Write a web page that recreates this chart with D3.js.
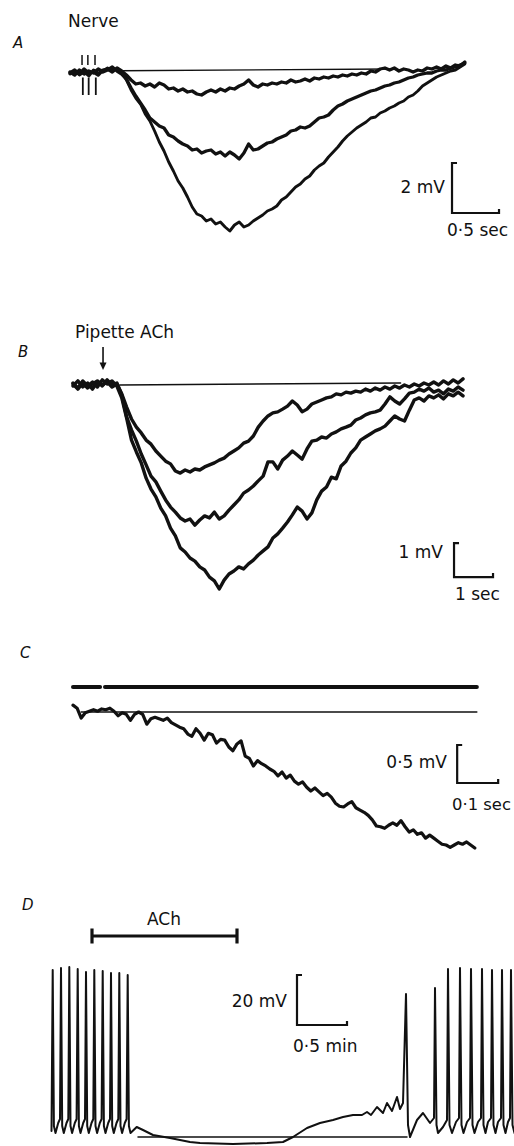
<!DOCTYPE html>
<html>
<head>
<meta charset="UTF-8">
<title>ACh slow potentials</title>
<script src="https://d3js.org/d3.v7.min.js"></script>
<style>
body{margin:0;background:#fff;}
text{font-family:"DejaVu Sans",sans-serif;fill:#111;}
</style>
</head>
<body>
<script>
// A: nerve evoked responses, one value every 0.05 s (mV from rest)
var dtA = 0.05;
var deepA = [-0.16,-0.04,-0.2,-0.08,-0.24,0,-0.12,-0.04,0.08,0,0.04,
  -0.08,-0.4,-0.8,-1.12,-1.36,-1.76,-2.04,-2.44,-2.88,-3.24,
  -3.68,-4.04,-4.44,-4.72,-5.08,-5.48,-5.76,-5.84,-6.04,-5.96,
  -6.16,-6.08,-6.28,-6.44,-6.2,-6.08,-6.28,-6.2,-6.04,-5.92,
  -5.8,-5.64,-5.56,-5.44,-5.2,-5.08,-4.88,-4.68,-4.56,-4.36,
  -4.24,-4.0,-3.84,-3.72,-3.48,-3.28,-3.08,-2.84,-2.64,-2.48,
  -2.32,-2.2,-2.08,-1.92,-1.88,-1.72,-1.64,-1.52,-1.44,-1.32,
  -1.24,-1.08,-1.0,-0.84,-0.64,-0.52,-0.4,-0.28,-0.2,-0.12,
  -0.04,0,0.12,0.24];
var midA = [-0.08,-0.2,0,-0.16,-0.04,-0.12,0.04,-0.08,0,0.12,-0.04,
  -0.16,-0.36,-0.72,-1.04,-1.32,-1.6,-1.92,-2.08,-2.24,-2.32,
  -2.6,-2.68,-2.84,-2.96,-3.04,-3.2,-3.16,-3.32,-3.24,-3.2,
  -3.36,-3.28,-3.44,-3.28,-3.4,-3.56,-3.32,-2.96,-3.2,-3.16,
  -3.04,-2.92,-2.88,-2.76,-2.68,-2.6,-2.44,-2.4,-2.28,-2.32,
  -2.24,-2.08,-1.92,-1.88,-1.8,-1.6,-1.44,-1.36,-1.24,-1.16,
  -1.08,-1.0,-0.92,-0.84,-0.8,-0.72,-0.64,-0.6,-0.52,-0.48,
  -0.4,-0.32,-0.28,-0.2,-0.16,-0.12,-0.12,-0.04,0,0,
  0.08,0.12,0.2,0.28];
var shalA = [-0.12,0,-0.16,0.04,-0.12,-0.08,-0.2,0,0.04,-0.08,0.08,
  -0.04,-0.2,-0.4,-0.56,-0.52,-0.64,-0.56,-0.68,-0.52,-0.6,
  -0.76,-0.72,-0.84,-0.76,-0.88,-0.84,-0.96,-1.0,-0.88,-0.8,
  -0.88,-0.76,-0.84,-0.72,-0.76,-0.64,-0.56,-0.4,-0.6,-0.68,
  -0.56,-0.6,-0.52,-0.56,-0.48,-0.52,-0.4,-0.48,-0.44,-0.36,
  -0.44,-0.32,-0.36,-0.28,-0.32,-0.24,-0.28,-0.2,-0.24,-0.16,
  -0.2,-0.12,-0.16,-0.04,-0.08,0.04,0.08,0,0.08,-0.04,
  0.04,0,-0.08,0,-0.04,0.08,0.04,0.12,0.04,0.16,
  0.08,0.2,0.16,0.32];
var stimA = [0.128, 0.19, 0.266];          // nerve shocks (s)
var baseA = [[0.53,-0.03],[3.4,0.04]];

// B: pipette ACh, one value every 0.125 s (mV)
var dtB = 0.125;
var deepB = [0.06,-0.09,0.12,-0.03,0.09,-0.06,0.15,0.03,0.12,-0.03,
  -0.38,-0.97,-1.62,-1.97,-2.29,-2.74,-3.06,-3.29,-3.62,-3.85,
  -4.21,-4.44,-4.79,-4.91,-5.09,-5.18,-5.35,-5.44,-5.65,-5.76,
  -6.0,-5.74,-5.56,-5.47,-5.35,-5.41,-5.26,-5.15,-5.0,-4.88,
  -4.76,-4.5,-4.38,-4.21,-4.03,-3.82,-3.59,-3.71,-3.94,-3.76,
  -3.38,-3.12,-3.0,-2.71,-2.76,-2.38,-2.24,-2.0,-1.85,-1.62,
  -1.53,-1.44,-1.35,-1.29,-1.21,-1.06,-0.91,-1.0,-1.06,-0.74,
  -0.44,-0.38,-0.47,-0.32,-0.38,-0.29,-0.41,-0.26,-0.32,-0.21,
  -0.32];
var midB = [-0.03,0.12,-0.06,0.06,-0.12,0.09,-0.03,0.15,0,0.06,
  -0.29,-0.94,-1.32,-1.65,-2.03,-2.35,-2.68,-2.85,-3.12,-3.38,
  -3.59,-3.74,-3.91,-4.0,-3.94,-4.12,-3.97,-3.85,-3.91,-3.74,
  -3.94,-3.85,-3.68,-3.53,-3.38,-3.18,-3.09,-2.97,-2.82,-2.68,
  -2.26,-2.26,-2.47,-2.21,-2.09,-1.94,-2.06,-2.18,-1.88,-1.65,
  -1.62,-1.53,-1.56,-1.44,-1.38,-1.29,-1.24,-1.18,-1.03,-0.97,
  -0.88,-0.82,-0.79,-0.74,-0.56,-0.35,-0.47,-0.56,-0.41,-0.24,
  -0.21,-0.12,-0.18,-0.09,-0.21,-0.15,-0.26,-0.12,-0.18,-0.06,
  -0.15];
var shalB = [0.03,-0.12,0.06,-0.09,0.03,0.12,0,0.09,-0.06,0.03,
  -0.26,-0.65,-1.0,-1.24,-1.41,-1.62,-1.74,-1.94,-2.09,-2.24,
  -2.32,-2.53,-2.59,-2.5,-2.56,-2.47,-2.5,-2.41,-2.35,-2.29,
  -2.21,-2.15,-2.03,-1.94,-1.85,-1.71,-1.65,-1.5,-1.24,-1.06,
  -0.91,-0.82,-0.79,-0.71,-0.62,-0.47,-0.59,-0.79,-0.71,-0.56,
  -0.5,-0.44,-0.38,-0.35,-0.26,-0.29,-0.21,-0.24,-0.18,-0.21,
  -0.12,-0.18,-0.09,-0.15,-0.06,-0.12,-0.03,-0.09,0,-0.06,
  0.03,-0.03,0.06,0,0.09,0,0.12,0.03,0.15,0.06,
  0.18];
var pipetteB = 0.77;                        // ACh pulse (s)
var baseB = [[1.2,0],[8.4,0.06]];

// C: onset on fast time base, one value every 0.01 s (mV)
var dtC = 0.01;
var traceC = [0.09,0.05,-0.08,-0.01,0.01,0.03,0.01,0.04,0.03,0.05,
  0.01,-0.05,-0.01,-0.03,-0.11,-0.03,0,-0.03,-0.16,-0.09,
  -0.07,-0.09,-0.11,-0.08,-0.14,-0.17,-0.2,-0.22,-0.29,-0.32,
  -0.22,-0.28,-0.37,-0.28,-0.3,-0.41,-0.36,-0.37,-0.46,-0.51,
  -0.42,-0.38,-0.58,-0.61,-0.71,-0.64,-0.68,-0.71,-0.75,-0.78,
  -0.84,-0.79,-0.87,-0.83,-0.91,-0.95,-0.92,-0.99,-1.04,-1.0,
  -1.05,-1.1,-1.07,-1.12,-1.2,-1.24,-1.25,-1.21,-1.18,-1.26,
  -1.29,-1.32,-1.36,-1.42,-1.5,-1.51,-1.53,-1.49,-1.46,-1.49,
  -1.43,-1.51,-1.58,-1.55,-1.61,-1.59,-1.66,-1.62,-1.66,-1.7,
  -1.74,-1.75,-1.78,-1.75,-1.72,-1.74,-1.71,-1.75,-1.79];
var markC = [[0,0.066],[0.078,0.985]];      // pulse marker segments (s)
var baseC = [[0.02,0],[0.985,0]];

// D: bath ACh on a firing cell, [min, mV]
var traceD = [
  [0.015,2.4],[0.027,66.8],[0.039,4.4],[0.055,1.6],[0.082,5.6],[0.1,7.2],
  [0.11,67.6],[0.122,4.4],[0.138,1.6],[0.165,5.6],[0.183,7.2],
  [0.193,68],[0.205,4.4],[0.221,1.6],[0.248,5.6],[0.266,7.2],
  [0.277,67.2],[0.289,4.4],[0.305,1.6],[0.332,5.6],[0.35,7.2],
  [0.36,66],[0.372,4.4],[0.388,1.6],[0.415,5.6],[0.433,7.2],
  [0.443,66.8],[0.455,4.4],[0.471,1.6],[0.498,5.6],[0.516,7.2],
  [0.527,66.4],[0.539,4.4],[0.555,1.6],[0.582,5.6],[0.6,7.2],
  [0.61,65.6],[0.622,4.4],[0.638,1.6],[0.665,5.6],[0.683,7.2],
  [0.693,65.6],[0.705,4.4],[0.721,1.6],[0.748,5.6],[0.766,7.2],
  [0.777,64.8],[0.789,4.4],[0.805,1.6],
  [0.867,4.0],[0.93,2.8],[1.03,0.8],[1.2,-0.4],[1.4,-2.0],[1.5,-2.4],[1.83,-2.8],
  [2.17,-2.4],[2.33,-2.0],[2.43,0],[2.57,3.6],[2.7,5.6],[2.83,6.8],[2.93,8.0],
  [3.03,8.8],[3.12,8.8],[3.17,10],[3.21,8.8],[3.27,12],[3.33,9.6],[3.37,13.6],
  [3.42,10.4],[3.47,16],[3.5,11.2],[3.53,13.6],
  [3.56,57.2],[3.58,4.8],[3.6,0],[3.67,6.8],[3.73,9.6],[3.8,5.6],[3.84,7.6],
  [3.85,59.6],[3.865,4.8],[3.88,1.6],[3.93,4.0],[3.97,6.8],
  [3.98,67.2],[3.995,4.8],[4.02,1.6],[4.06,6.0],[4.09,7.6],
  [4.1,67.6],[4.115,4.8],[4.135,1.6],[4.17,6.0],[4.2,7.6],
  [4.21,67.2],[4.225,4.8],[4.245,1.6],[4.28,6.0],[4.31,7.6],
  [4.32,67.2],[4.335,4.8],[4.355,1.6],[4.38,6.0],[4.41,7.6],
  [4.42,66.8],[4.435,4.8],[4.455,1.6],[4.48,6.0],[4.51,7.6],
  [4.52,66.8],[4.535,4.8],[4.555,1.6],[4.58,6.0],[4.6,7.6],
  [4.61,66.8],[4.625,4.8],[4.645,1.6]
];
var achD = [0.42, 1.87];                    // bath application (min)
var baseD = [[0.88,0],[3.57,0]];

var W = 514, H = 1146;
var svg = d3.select("body").append("svg")
        .attr("width",W).attr("height",H);
svg.append("rect").attr("width",W).attr("height",H).attr("fill","#fff");

// scales, one pair per panel (taken from the calibration bars)
var xA = d3.scaleLinear().domain([0,4.2]).range([70,464.8]);
var yA = d3.scaleLinear().domain([0,-7]).range([70,245]);
var xB = d3.scaleLinear().domain([0,10]).range([73,463]);
var yB = d3.scaleLinear().domain([0,-6]).range([385,589]);
var xC = d3.scaleLinear().domain([0,0.98]).range([73,474.8]);
var yC = d3.scaleLinear().domain([0,-2]).range([712,864]);
var xD = d3.scaleLinear().domain([0,4.64]).range([50,514]);
var yD = d3.scaleLinear().domain([0,80]).range([1137,937]);

function sampled(x,y,dt,vals,w){
    var line = d3.line()
            .x(function(d,i){return x(i*dt);})
            .y(function(d){return y(d);});
    svg.append("path").datum(vals)
            .attr("d",line)
            .attr("fill","none")
            .attr("stroke","#111")
            .attr("stroke-width",w)
            .attr("stroke-linejoin","round")
            .attr("stroke-linecap","round");
}
function pairs(x,y,pts,w){
    var line = d3.line()
            .x(function(d){return x(d[0]);})
            .y(function(d){return y(d[1]);});
    svg.append("path").datum(pts)
            .attr("d",line)
            .attr("fill","none")
            .attr("stroke","#111")
            .attr("stroke-width",w)
            .attr("stroke-linejoin","round")
            .attr("stroke-linecap","round");
}
function calBar(x,y,t0,v0,dt,dv){
    var x0 = x(t0), x1 = x(t0+dt), yb = y(v0), yt = y(v0+dv);
    svg.append("path")
            .attr("d","M"+(x0+5)+","+yt+"L"+x0+","+yt+"L"+x0+","+yb+"L"+x1+","+yb+"L"+x1+","+(yb-4))
            .attr("fill","none")
            .attr("stroke","#111")
            .attr("stroke-width",2.2);
}
function label(txt,x,y,size,anchor,italic){
    svg.append("text").text(txt)
            .attr("x",x).attr("y",y)
            .attr("font-size",size)
            .attr("text-anchor",anchor||"start")
            .attr("font-style",italic?"italic":"normal");
}

// ---- A
label("A",13,48,15,"start",true);
label("Nerve",68,27,17);
pairs(xA,yA,baseA,1.4);
sampled(xA,yA,dtA,shalA,3.3);
sampled(xA,yA,dtA,midA,3.3);
sampled(xA,yA,dtA,deepA,2.9);
stimA.forEach(function(t){
    svg.append("line").attr("x1",xA(t)).attr("x2",xA(t))
            .attr("y1",yA(0.6)).attr("y2",yA(0.2))
            .attr("stroke","#111").attr("stroke-width",1.5);
    svg.append("line").attr("x1",xA(t)+0.8).attr("x2",xA(t)+0.8)
            .attr("y1",yA(-0.3)).attr("y2",yA(-1.0))
            .attr("stroke","#111").attr("stroke-width",1.8);
});
calBar(xA,yA,4.064,-5.72,0.5,2);
label("2 mV",445,193,17,"end");
label("0\u00b75 sec",447,236,17);

// ---- B
label("B",18,357,15,"start",true);
label("Pipette ACh",75,338,17);
svg.append("line").attr("x1",xB(pipetteB)).attr("x2",xB(pipetteB))
        .attr("y1",yB(1.12)).attr("y2",yB(0.6))
        .attr("stroke","#111").attr("stroke-width",1.6);
svg.append("path")
        .attr("d","M"+(xB(pipetteB)-3.5)+","+yB(0.66)+"L"+(xB(pipetteB)+3.5)+","+yB(0.66)+"L"+xB(pipetteB)+","+yB(0.44)+"Z")
        .attr("fill","#111");
pairs(xB,yB,baseB,1.4);
sampled(xB,yB,dtB,shalB,3.4);
sampled(xB,yB,dtB,midB,3.4);
sampled(xB,yB,dtB,deepB,3.4);
calBar(xB,yB,9.77,-5.65,1,1);
label("1 mV",443,558,17,"end");
label("1 sec",455,600,17);

// ---- C
label("C",20,658,15,"start",true);
markC.forEach(function(s){
    svg.append("line").attr("x1",xC(s[0])).attr("x2",xC(s[1]))
            .attr("y1",yC(0.33)).attr("y2",yC(0.33))
            .attr("stroke","#111").attr("stroke-width",4)
            .attr("stroke-linecap","round");
});
pairs(xC,yC,baseC,1.4);
sampled(xC,yC,dtC,traceC,3.2);
calBar(xC,yC,0.937,-0.934,0.1,0.5);
label("0\u00b75 mV",447,768,17,"end");
label("0\u00b71 sec",452,810,16.4);

// ---- D
label("D",22,910,15,"start",true);
label("ACh",164,925,17,"middle");
svg.append("line").attr("x1",xD(achD[0])).attr("x2",xD(achD[1]))
        .attr("y1",yD(80.4)).attr("y2",yD(80.4))
        .attr("stroke","#111").attr("stroke-width",2.8);
achD.forEach(function(t){
    svg.append("line").attr("x1",xD(t)).attr("x2",xD(t))
            .attr("y1",yD(77.4)).attr("y2",yD(83.4))
            .attr("stroke","#111").attr("stroke-width",3.2);
});
pairs(xD,yD,baseD,1.5);
pairs(xD,yD,traceD,2.0);
calBar(xD,yD,2.47,44.8,0.5,20);
label("20 mV",287,1007,17,"end");
label("0\u00b75 min",293,1052,17);
</script>
</body>
</html>
